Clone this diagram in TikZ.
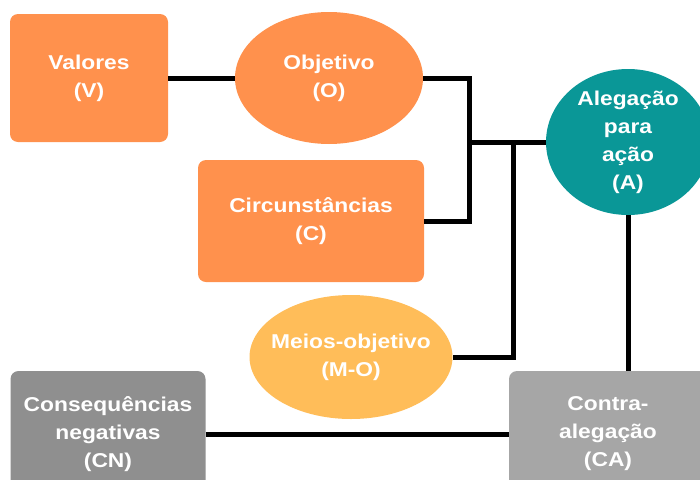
\documentclass[tikz,border=0pt]{standalone}
\usepackage{fontspec}
\setmainfont{Liberation Sans}[FakeStretch=1.14]
\usetikzlibrary{shapes.geometric}
\definecolor{laranja}{HTML}{FF914D}
\definecolor{amarelo}{HTML}{FFBD59}
\definecolor{verde}{HTML}{0A9797}
\definecolor{cinza}{HTML}{8F8F8F}
\definecolor{cinzaclaro}{HTML}{A6A6A6}
\begin{document}
\begin{tikzpicture}[x=1pt, y=-1pt,
    caixa/.style={rounded corners=8pt, text=white, align=center, inner sep=0pt,
      font=\fontsize{20}{28}\selectfont\bfseries},
    bola/.style={ellipse, text=white, align=center, inner sep=0pt,
      font=\fontsize{20}{28}\selectfont\bfseries},
    liga/.style={line width=5pt}]
          \useasboundingbox (0, 0) rectangle (700, 479);
          \node [caixa, fill=laranja, minimum width=158pt, minimum height=128pt] (V) at (89, 78) {Valores\\(V)};
          \node [bola, fill=laranja, minimum width=188pt, minimum height=132pt] (O) at (329, 78) {Objetivo\\(O)};
          \node [caixa, fill=laranja, minimum width=226pt, minimum height=122pt] (C) at (311, 221) {Circunstâncias\\(C)};
          \node [bola, fill=verde, minimum width=164pt, minimum height=146pt] (A) at (628, 142) {Alegação\\para\\ação\\(A)};
          \node [bola, fill=amarelo, inner xsep=-40pt, minimum width=203pt, minimum height=124pt] (MO) at (351, 357) {Meios-objetivo\\(M-O)};
          \node [caixa, fill=cinza, minimum width=195pt, minimum height=126pt] (CN) at (108, 434) {Consequências\\negativas\\(CN)};
          \node [caixa, fill=cinzaclaro, minimum width=198pt, minimum height=126pt] (CA) at (608, 434) {Contra-\\alegação\\(CA)};
          \path (A.west) ++(-76, 0) coordinate (j1);
          \path (A.west) ++(-32, 0) coordinate (j2);
          \draw [liga] (V.east) -- (O.west);
          \draw [liga] (O.east) -| (j1) |- (C.east);
          \draw [liga] (j1) -- (A.west);
          \draw [liga] (j2) |- (MO.east);
          \draw [liga] (A.south) -- (A.south |- CA.north);
          \draw [liga] (CN.east) -- (CA.west);
        \end{tikzpicture}
\end{document}
